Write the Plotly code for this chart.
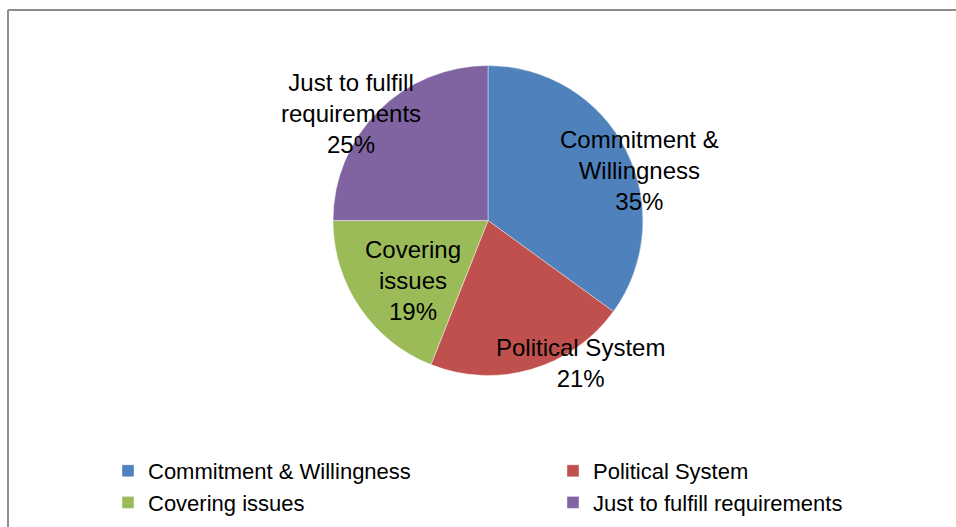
import math
import plotly.graph_objects as go

labels = ["Commitment & Willingness", "Political System", "Covering issues", "Just to fulfill requirements"]
values = [35, 21, 19, 25]
label_lines = ["Commitment &<br>Willingness", "Political System", "Covering<br>issues", "Just to fulfill<br>requirements"]
colors = ["#4F81BD", "#C0504D", "#9BBB59", "#8064A2"]

# label placement style: (radius factor, angle nudge in degrees)
label_style = [(1.03, 8.8), (1.10, -16.8), (0.62, -4.5), (1.12, -7.0)]

W, H = 956, 527
cx, cy, R = 488, 220.5, 155

fig = go.Figure(go.Pie(
    labels=labels, values=values, sort=False, direction="clockwise", rotation=0,
    marker=dict(colors=colors, line=dict(color="rgba(255,255,255,0.5)", width=0.8)),
    textinfo="none", hoverinfo="label+percent",
    domain=dict(x=[(cx - R) / W, (cx + R) / W], y=[1 - (cy + R) / H, 1 - (cy - R) / H]),
))

total = sum(values)
cum = 0
annotations = []
for lab, v, (rf, dth) in zip(label_lines, values, label_style):
    pct = v / total
    mid = (cum + pct / 2) * 360 + dth
    cum += pct
    ang = math.radians(mid)
    px = cx + R * rf * math.sin(ang)
    py = cy - R * rf * math.cos(ang)
    annotations.append(dict(
        x=px / W, y=1 - py / H, xref="paper", yref="paper",
        text=f"{lab}<br>{round(pct * 100)}%", showarrow=False,
        font=dict(size=24, color="#000000", family="Liberation Sans, Arial, sans-serif"),
        align="center", xanchor="center", yanchor="middle",
    ))

fig.update_layout(
    width=W, height=H,
    margin=dict(l=0, r=0, t=0, b=0, autoexpand=False),
    paper_bgcolor="white", plot_bgcolor="white",
    font=dict(family="Liberation Sans, Arial, sans-serif", color="#000000"),
    annotations=annotations,
    showlegend=True,
    legend=dict(
        orientation="h", x=108 / W, xanchor="left", y=1 - 450 / H, yanchor="top",
        entrywidth=400, entrywidthmode="pixels",
        font=dict(size=22, color="#000000"), traceorder="normal",
        itemclick=False, itemdoubleclick=False, tracegroupgap=0,
        bgcolor="rgba(0,0,0,0)",
    ),
    shapes=[
        dict(type="line", xref="paper", yref="paper", x0=8 / W, x1=1.0, y0=1 - 10 / H, y1=1 - 10 / H,
             line=dict(color="#8C8C8C", width=2)),
        dict(type="line", xref="paper", yref="paper", x0=8 / W, x1=8 / W, y0=1 - 10 / H, y1=0,
             line=dict(color="#8C8C8C", width=2)),
    ],
)

fig.write_html("out.html")
